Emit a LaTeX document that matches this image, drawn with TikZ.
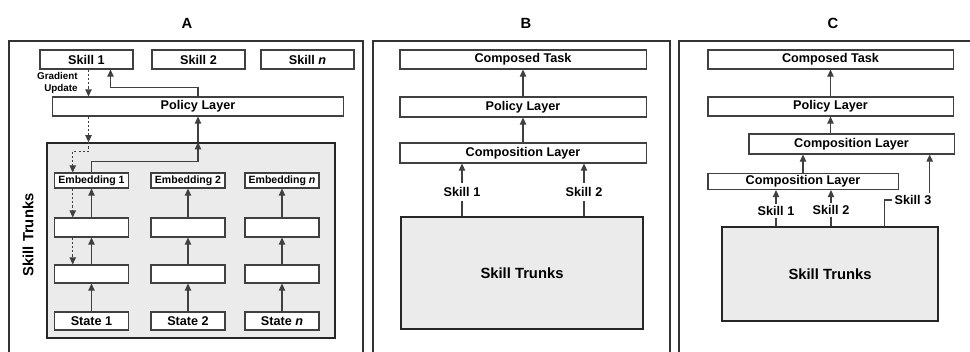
\documentclass[tikz,border=0pt]{standalone}
\usepackage{fontspec}
\setmainfont{Liberation Sans}
\usetikzlibrary{calc,arrows.meta,positioning}
\tikzset{%
    box/.style={%
        rectangle, draw=black!75, line width=0.75pt, fill=white, inner sep=0pt, font=\fontsize{9}{10}\selectfont\bfseries
    },
    embed/.style={%
        box, minimum width=1.85cm, font=\fontsize{7.5}{9}\selectfont\bfseries
    },
    trunk/.style={%
        rectangle, draw=black!85, line width=1pt, fill=black!8, font=\fontsize{10.5}{12}\selectfont\bfseries
    },
    panel/.style={%
        draw=black!80, line width=1pt
    },
    paneltitle/.style={%
        font=\fontsize{10.5}{12}\selectfont\bfseries
    },
    arr/.style={%
        draw=black!75, line width=0.75pt, -{Triangle[length=5pt,width=4.5pt]}
    },
    wire/.style={%
        draw=black!75, line width=0.75pt
    },
    grad/.style={%
        arr, dash pattern=on 1.5pt off 1.5pt
    },
    skl/.style={%
        inner sep=1.5pt, font=\fontsize{9}{10}\selectfont\bfseries
    },
    gradlbl/.style={%
        align=right, inner sep=0pt, font=\fontsize{7}{9}\selectfont\bfseries
    },
}

\begin{document}
\begin{tikzpicture}[x=0.025cm, y=-0.025cm]
  \clip (0,0) rectangle (970,352);

  % A: training the skill trunks
  \node[paneltitle] (tA) at (187,23) {A};
  \draw[panel] (9,41) rectangle (363,380);
  \node[box, minimum width=2.325cm, minimum height=0.475cm] (s1) at (86.5,59.5) {Skill 1};
  \node[box, minimum width=2.325cm, minimum height=0.475cm] (s2) at (198.5,59.5) {Skill 2};
  \node[box, minimum width=2.325cm, minimum height=0.475cm] (sn) at (307.5,59.5) {Skill \textit{n}};
  \node[box, minimum width=7.25cm, minimum height=0.475cm] (polA) at (198,106.5) {Policy Layer};
  \node[trunk, minimum width=7.2cm, minimum height=4.875cm] (trunkA) at (191,240.5) {};
  \node[paneltitle, rotate=90] (stA) at (28,235) {Skill Trunks};
  \foreach \i/\x/\t in {1/91.5/1, 2/188/2, 3/282/\textit{n}} {
    \node[embed, minimum height=0.375cm] (em\i) at (\x,180.5) {Embedding \t};
    \node[embed, minimum height=0.475cm] (mi\i) at (\x,227.5) {};
    \node[embed, minimum height=0.45cm] (lo\i) at (\x,274) {};
    \node[box, minimum width=1.85cm, minimum height=0.45cm] (st\i) at (\x,321) {State \t};
    \draw[arr] (st\i) -- (lo\i);
    \draw[arr] (lo\i) -- (mi\i);
    \draw[arr] (mi\i) -- (em\i);
  }
  \draw[arr] (em1.north) -- ++(0,-11) -| (trunkA.north -| polA.south);
  \draw[arr] (trunkA.north -| polA.south) -- (polA.south);
  \draw[arr] (polA.north) -- ++(0,-9) -| ($(s1.south)+(24,0)$);

  % gradient path
  \node[gradlbl, anchor=east] (gl) at (78,83) {Gradient\\Update};
  \draw[grad] (s1.south) ++(2,0) coordinate (g1) -- (g1 |- polA.north);
  \draw[grad] (g1 |- polA.south) -- (g1 |- trunkA.north);
  \coordinate (d1) at ($(em1.south west)!0.25!(em1.south east)$);
  \draw[grad] (g1 |- trunkA.north) -- ++(0,9) -| (d1 |- em1.north);
  \draw[grad] (d1) -- (d1 |- mi1.north);
  \draw[grad] (d1 |- mi1.south) -- (d1 |- lo1.north);

  % B: composing two skills
  \node[paneltitle] (tB) at (526,23) {B};
  \draw[panel] (373,41) rectangle (670,380);
  \node[box, minimum width=6.15cm, minimum height=0.475cm] (ctB) at (523,59.5) {Composed Task};
  \node[box, minimum width=6.15cm, minimum height=0.5cm] (polB) at (523,107) {Policy Layer};
  \node[box, minimum width=6.15cm, minimum height=0.5cm] (compB) at (523,153) {Composition Layer};
  \node[trunk, minimum width=6.05cm, minimum height=2.8cm] (trunkB) at (522,273) {Skill Trunks};
  \draw[arr] (polB) -- (ctB);
  \draw[arr] (compB) -- (polB);
  \node[skl, inner sep=3pt] (sk1B) at (462,192) {Skill 1};
  \node[skl, inner sep=3pt] (sk2B) at (584,192) {Skill 2};
  \foreach \k in {sk1B, sk2B} {
    \draw[wire] (\k.south) -- (\k.south |- trunkB.north);
    \draw[arr] (\k.north) -- (\k.north |- compB.south);
  }

  % C: hierarchical composition
  \node[paneltitle] (tC) at (833,23) {C};
  \draw[panel] (679,41) rectangle (990,380);
  \node[box, minimum width=6.125cm, minimum height=0.475cm] (ctC) at (830.5,59.5) {Composed Task};
  \node[box, minimum width=6.125cm, minimum height=0.475cm] (polC) at (830.5,106.5) {Policy Layer};
  \node[box, minimum width=5.125cm, minimum height=0.5cm] (comp2C) at (851.5,144) {Composition Layer};
  \node[box, minimum width=4.75cm, minimum height=0.4cm] (comp1C) at (803,181.5) {Composition Layer};
  \node[trunk, minimum width=5.4cm, minimum height=2.35cm] (trunkC) at (830,274) {Skill Trunks};
  \draw[arr] (polC) -- (ctC);
  \draw[arr] (comp2C.north -| polC.south) -- (polC.south);
  \draw[arr] (comp1C.north) -- (comp1C.north |- comp2C.south);
  \node[skl] (sk1C) at (776,211) {Skill 1};
  \node[skl] (sk2C) at (831,210) {Skill 2};
  \foreach \k in {sk1C, sk2C} {
    \draw[wire] (\k.south) -- (\k.south |- trunkC.north);
    \draw[arr] (\k.north) -- (\k.north |- comp1C.south);
  }
  \node[skl] (sk3C) at (913,200) {Skill 3};
  \draw[wire] (sk3C.west) -| ($(trunkC.north west)!0.75!(trunkC.north east)$);
  \draw[arr] (sk3C.north east) ++(-4,0) coordinate (k3) -- (k3 |- comp2C.south);
\end{tikzpicture}
\end{document}
